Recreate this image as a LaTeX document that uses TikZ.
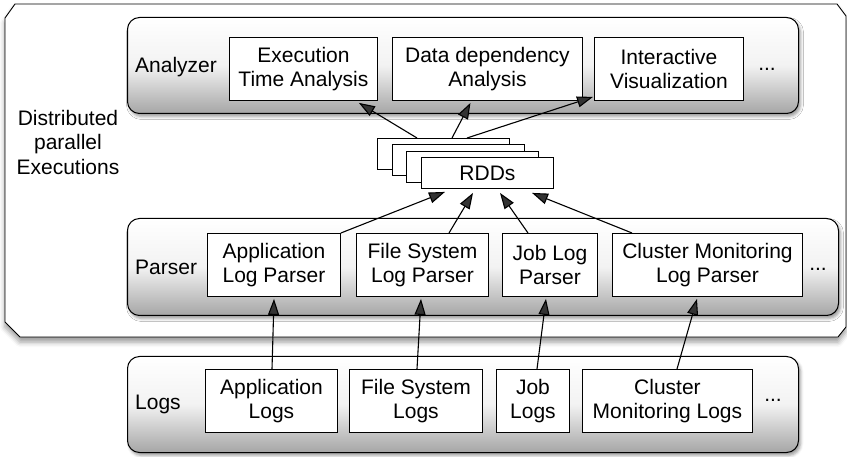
\documentclass[tikz,border=0pt]{standalone}
\usepackage{fontspec}
\setmainfont{Liberation Sans}
\usepackage{tikz}
\usetikzlibrary{arrows.meta,shadows.blur}

\tikzset{
  layer/.style={draw,line width=1pt,rounded corners=12pt,anchor=north west,
    top color=white,bottom color=black!35,middle color=black!5,
    blur shadow={shadow xshift=2pt,shadow yshift=-3pt,shadow blur radius=3pt}},
  part/.style={draw,line width=0.9pt,fill=white,anchor=north west,align=center,inner sep=0pt},
  flow/.style={line width=1.1pt,-{Triangle[length=16pt,width=11pt]}},
  tag/.style={anchor=west,inner sep=0pt}
}

\begin{document}
\begin{tikzpicture}[x=1pt,y=-1pt,font=\fontsize{21}{24.5}\selectfont]
  \useasboundingbox (0,0) rectangle (847,457);

  % Outer frame for the distributed part
  \draw[line width=0.9pt,fill=white,
    blur shadow={shadow xshift=0pt,shadow yshift=-5pt,shadow blur radius=5pt}]
    (15,4) -- (837,4) -- (846,16) -- (846,327) -- (838,337)
    -- (20,337) -- (5,322) -- (5,18) -- cycle;
  \node[align=center] (dist) at (68,142) {Distributed\\parallel\\Executions};

  % Analyzer layer
  \node[layer,minimum width=671pt,minimum height=96pt] (analyzer) at (127,17) {};
  \node[tag] (analyzerlab) at (135,67) {Analyzer};
  \node[part,minimum width=148pt,minimum height=63pt] (exec) at (229,37) {Execution\\Time Analysis};
  \node[part,minimum width=190pt,minimum height=63pt] (dep) at (392,37) {Data dependency\\Analysis};
  \node[part,minimum width=149pt,minimum height=63pt] (vis) at (594,37) {Interactive\\Visualization};
  \node (moreA) at (767,69) {...};

  % RDD stack
  \foreach \i in {0,1,2}
    \node[part,minimum width=132pt,minimum height=31pt] (rdd\i) at ({377+14.7*\i},{138+6.3*\i}) {};
  \node[part,minimum width=132pt,minimum height=31pt] (rdd3) at (421,157) {RDDs};

  % Parser layer
  \node[layer,minimum width=711pt,minimum height=97pt] (parser) at (127,218) {};
  \node[tag] (parserlab) at (135,267) {Parser};
  \node[part,minimum width=133pt,minimum height=63pt] (appP) at (207,233) {Application\\Log Parser};
  \node[part,minimum width=132pt,minimum height=63pt] (fsP) at (356,233) {File System\\Log Parser};
  \node[part,minimum width=95pt,minimum height=63pt] (jobP) at (502,233) {Job Log\\Parser};
  \node[part,minimum width=190pt,minimum height=63pt] (clP) at (612,233) {Cluster Monitoring\\Log Parser};
  \node (moreP) at (818,269) {...};

  % Logs layer
  \node[layer,minimum width=671pt,minimum height=96pt] (logs) at (127,356) {};
  \node[tag] (logslab) at (135,404) {Logs};
  \node[part,minimum width=132pt,minimum height=63pt] (appL) at (205,369) {Application\\Logs};
  \node[part,minimum width=133pt,minimum height=63pt] (fsL) at (349,369) {File System\\Logs};
  \node[part,minimum width=73pt,minimum height=63pt] (jobL) at (496,369) {Job\\Logs};
  \node[part,minimum width=170pt,minimum height=63pt] (clL) at (582,369) {Cluster\\Monitoring Logs};
  \node (moreL) at (773,400) {...};

  % Logs -> parsers
  \draw[flow] ([xshift=67pt]appL.north west) -- ([shift={(67pt,-2pt)}]appP.south west);
  \draw[flow] ([xshift=68pt]fsL.north west) -- ([shift={(65pt,-2pt)}]fsP.south west);
  \draw[flow] ([xshift=41pt]jobL.north west) -- ([shift={(44pt,-2pt)}]jobP.south west);
  \draw[flow] ([xshift=95pt]clL.north west) -- ([shift={(85pt,-2pt)}]clP.south west);

  % Parsers -> RDDs
  \draw[flow] (appP.north east) -- ([shift={(24pt,-3pt)}]rdd3.south west);
  \draw[flow] ([xshift=93pt]fsP.north west) -- ([shift={(52pt,-4pt)}]rdd3.south west);
  \draw[flow] ([xshift=26pt]jobP.north west) -- ([shift={(79pt,-4pt)}]rdd3.south west);
  \draw[flow] ([xshift=20pt]clP.north west) -- ([shift={(111pt,-4pt)}]rdd3.south west);

  % RDDs -> analyzers
  \draw[flow] ([xshift=40pt]rdd0.north west) -- ([shift={(-19pt,-2pt)}]exec.south east);
  \draw[flow] ([xshift=75pt]rdd0.north west) -- ([shift={(-17pt,-2pt)}]dep.south);
  \draw[flow] ([xshift=90pt]rdd0.north west) -- ([shift={(-1pt,4pt)}]vis.south west);
\end{tikzpicture}
\end{document}
